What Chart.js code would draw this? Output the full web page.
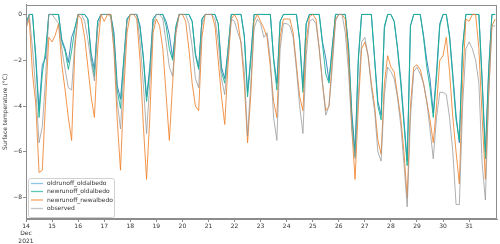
<!DOCTYPE html>
<html><head><meta charset="utf-8">
<script src="https://cdn.jsdelivr.net/npm/chart.js@4/dist/chart.umd.min.js"></script>
<style>html,body{margin:0;padding:0;background:#fff}canvas{display:block}</style>
</head><body>
<canvas id="c" width="500" height="244"></canvas>
<script>
// time grid: 3-hourly samples starting 14 Dec 2021 00:00 (x in day-of-month units)
const startDay = 14;
const stepDays = 0.125;
const seriesNames = ["oldrunoff_oldalbedo","newrunoff_oldalbedo","newrunoff_newalbedo","observed"];
const xTicks = [14,15,16,17,18,19,20,21,22,23,24,25,26,27,28,29,30,31];
const yTicks = [-8,-6,-4,-2,0];

const oldrunoffOldalbedo = [
-0.4,0,0,-1.8,-4.2,-2.2,-1.9,0,
0,0,0,-1.1,-1.5,-2.1,-1.0,-0.6,
0,0,0,-0.2,-1.7,-2.4,-0.3,0,
0,0,0,-0.8,-3.1,-3.7,-2.0,-0.2,
0,0,0,-0.5,-1.8,-3.6,-2.3,-0.2,
0,0,0,-0.3,-0.9,-1.9,-0.6,0,
0,0,0,-0.3,-1.7,-2.3,-0.2,0,
0,0,0,-0.4,-2.3,-2.8,-1.6,0,
0,0,0,-0.9,-3.4,-1.8,0,0,
0,0,0,0,-1.9,-3.0,-0.3,0,
0,0,0,0,-1.1,-3.2,-0.4,0,
0,0,0,-1.2,-1.9,-2.9,-1.4,0,
0,0,0,-1.4,-4.3,-6.0,-1.9,0,
0,0,0,-1.9,-3.8,-4.4,-0.6,0,
0,-0.3,-1.4,-2.8,-4.6,-6.4,-0.5,0,
0,0,-0.9,-2.0,-2.8,-4.3,-2.5,-0.4,
0,0,-0.9,-2.6,-4.4,-5.6,-1.4,0,
0,0,0,0,-2.8,-6.0,-2.4,0,
0];
const newrunoffOldalbedo = [
-0.4,0,0,-2.0,-4.5,-2.6,-1.6,0,
0,0,0,-1.2,-1.6,-2.4,-1.6,-0.6,
0,0,0,-0.2,-1.9,-2.7,-0.3,0,
0,0,0,-1.0,-3.3,-4.1,-2.0,-0.2,
0,0,0,-0.6,-1.9,-3.8,-2.5,-0.2,
0,0,0,-0.5,-1.5,-2.0,-0.5,0,
0,0,0,-0.3,-1.8,-2.4,-0.2,0,
0,0,0,-0.4,-2.5,-3.0,-1.5,0,
0,0,0,-1.0,-3.6,-2.0,0,0,
0,0,0,0,-2.0,-3.3,-0.3,0,
0,0,0,0,-1.2,-3.4,-0.4,0,
0,0,0,-1.3,-2.6,-3.0,-1.5,0,
0,0,0,-1.5,-4.5,-6.2,-2.0,0,
0,0,0,-2.0,-4.0,-4.6,-0.5,0,
0,-0.3,-1.5,-3.0,-4.8,-6.6,-0.5,0,
0,0,-1.0,-2.3,-3.2,-4.5,-2.8,-0.5,
0,0,-1.0,-2.8,-4.6,-5.5,-1.5,0,
0,0,0,0,-3.0,-6.3,-2.5,0,
0];
const newrunoffNewalbedo = [
-0.6,-0.2,-2.6,-3.9,-6.9,-6.8,-3.8,-1.0,
-1.2,-0.9,-0.4,-2.2,-3.3,-4.5,-5.5,-1.5,
0,-0.2,-1.0,-2.3,-3.6,-4.5,-1.5,0,
-0.3,0,0,-1.6,-4.6,-6.8,-3.4,-0.8,
0,0,-0.2,-2.0,-4.8,-7.2,-4.5,-0.8,
-0.2,-0.5,-1.5,-3.5,-5.5,-3.0,-0.8,0,
0,-0.3,-1.5,-3.0,-4.0,-4.2,-1.0,0,
0,0,-0.5,-2.0,-3.6,-4.8,-2.2,-0.2,
0,-0.3,-1.3,-3.0,-5.6,-3.5,-0.3,0,
-0.3,-0.6,-1.0,-2.3,-3.8,-4.5,-1.0,-0.2,
-0.2,-0.2,-0.8,-2.2,-3.6,-4.2,-1.2,-0.1,
0,-0.2,-1.5,-3.0,-4.2,-4.0,-2.0,-0.2,
0,0,-0.2,-2.0,-5.0,-7.2,-4.0,-1.5,
-1.2,-1.8,-3.0,-4.0,-5.5,-6.1,-3.0,-1.8,
-2.3,-2.5,-3.5,-4.5,-6.0,-8.0,-4.0,-2.3,
-2.2,-2.4,-3.0,-3.8,-4.6,-5.6,-4.0,-2.0,
-1.8,-1.0,-2.5,-4.5,-6.0,-7.4,-3.0,-0.2,
-0.3,0,0,-1.5,-4.5,-7.2,-3.5,-0.5,
-0.2];
const observed = [
-0.6,0,-1.5,-3.3,-5.6,-4.9,-2.8,0,
0,-0.2,-0.4,-1.5,-2.4,-3.2,-3.3,-1.2,
0,0,-0.3,-1.1,-2.1,-2.9,-0.6,0,
0,0,-0.1,-1.4,-3.8,-5.0,-2.6,-0.3,
0,0,0,-1.2,-3.0,-5.2,-3.0,-0.5,
0,0,-0.2,-1.2,-2.3,-2.7,-0.8,0,
0,0,-0.4,-1.4,-2.8,-3.2,-0.5,0,
0,0,-0.2,-1.2,-2.8,-3.5,-1.8,-0.2,
-0.3,-0.8,-1.2,-2.5,-5.3,-3.0,-0.6,-0.2,
-0.4,-1.0,-0.8,-2.0,-4.5,-5.5,-1.5,-0.4,
-0.4,-0.5,-1.0,-2.4,-4.0,-5.2,-1.8,-0.3,
-0.2,-0.4,-1.5,-3.0,-4.4,-4.0,-2.3,-0.3,
0,0,-0.8,-2.5,-5.0,-6.3,-3.5,-1.2,
-1.0,-1.8,-3.2,-4.2,-6.0,-6.4,-3.5,-2.3,
-2.5,-2.8,-3.6,-4.8,-6.5,-8.4,-4.5,-2.5,
-2.3,-2.6,-3.0,-3.8,-5.0,-6.3,-4.5,-3.4,
-3.4,-3.5,-4.5,-6.0,-8.3,-8.3,-4.0,-1.5,
-1.2,-1.5,-2.0,-3.0,-6.5,-8.1,-3.5,-0.5,
-0.5];

const colors = ["rgba(31,119,180,0.85)","rgba(26,178,150,0.9)","rgba(240,130,45,0.85)","rgba(150,150,150,0.75)"];
const legendColors = ["#8fc3e3","#5ccab0","#f3a56a","#c4c4c4"];

function toXY(arr){ return arr.map((v,i)=>({x:startDay+i*stepDays, y:v})); }
const all = [oldrunoffOldalbedo,newrunoffOldalbedo,newrunoffNewalbedo,observed];
const orders = [4,3,2,1];
const datasets = all.map((arr,k)=>({
  label: seriesNames[k], data: toXY(arr), borderColor: colors[k], borderWidth: 1,
  pointRadius: 0, tension: 0, fill: false, order: orders[k]
}));

const FONT = "DejaVu Sans";
const frame = {
  id:'frame',
  afterDraw(chart){
    const {ctx, chartArea:a} = chart;
    ctx.save();
    ctx.strokeStyle = '#8c8c8c'; ctx.lineWidth = 1;
    ctx.strokeRect(Math.round(a.left)+0.5, Math.round(a.top)+0.5, Math.round(a.right-a.left)-1, Math.round(a.bottom-a.top)-1);
    // legend
    const bx=28, by=178, bw=86, bh=39;
    ctx.fillStyle='rgba(255,255,255,0.85)';
    ctx.strokeStyle='#d0d0d0';
    ctx.beginPath();
    if (ctx.roundRect) ctx.roundRect(bx+0.5,by+0.5,bw,bh,2); else ctx.rect(bx+0.5,by+0.5,bw,bh);
    ctx.fill(); ctx.stroke();
    ctx.font = "6px '"+FONT+"'";
    ctx.textBaseline='middle';
    const rows=[183.5,191.5,200,208.5];
    seriesNames.forEach((n,i)=>{
      ctx.strokeStyle=legendColors[i]; ctx.lineWidth=1.3;
      ctx.beginPath(); ctx.moveTo(31,rows[i]); ctx.lineTo(43,rows[i]); ctx.stroke();
      ctx.fillStyle='#333'; ctx.fillText(n,47,rows[i]);
    });
    ctx.restore();
  }
};

new Chart(document.getElementById('c'), {
  type:'line',
  data:{datasets},
  options:{
    responsive:false, animation:false, devicePixelRatio:1,
    layout:{padding:{top:3,right:3,left:0,bottom:0}},
    plugins:{legend:{display:false}, tooltip:{enabled:false}},
    scales:{
      x:{
        type:'linear', min:14, max:32.07,
        afterFit(s){ s.height = 25; },
        afterBuildTicks(s){ s.ticks = xTicks.map(v=>({value:v})); },
        ticks:{autoSkip:false, maxRotation:0, minRotation:0, padding:1, color:'#333',
          font:{family:FONT,size:6,lineHeight:1.2},
          callback:(v)=> v===14 ? ["14","Dec","2021"] : String(v)},
        grid:{drawOnChartArea:false, tickLength:3, color:'#8c8c8c'},
        border:{color:'#8c8c8c'}
      },
      y:{
        min:-8.93, max:0.43,
        afterFit(s){ s.width = 26; },
        afterBuildTicks(s){ s.ticks = yTicks.map(v=>({value:v})); },
        ticks:{padding:1, color:'#333', font:{family:FONT,size:6},
          callback:(v)=> v<0 ? "\u2212"+Math.abs(v) : String(v)},
        grid:{drawOnChartArea:false, tickLength:3, color:'#8c8c8c'},
        border:{color:'#8c8c8c'},
        title:{display:true, text:"Surface temperature (°C)", color:'#333', font:{family:FONT,size:6}, padding:{top:2,bottom:0}}
      }
    }
  },
  plugins:[frame]
});
</script>
</body></html>
